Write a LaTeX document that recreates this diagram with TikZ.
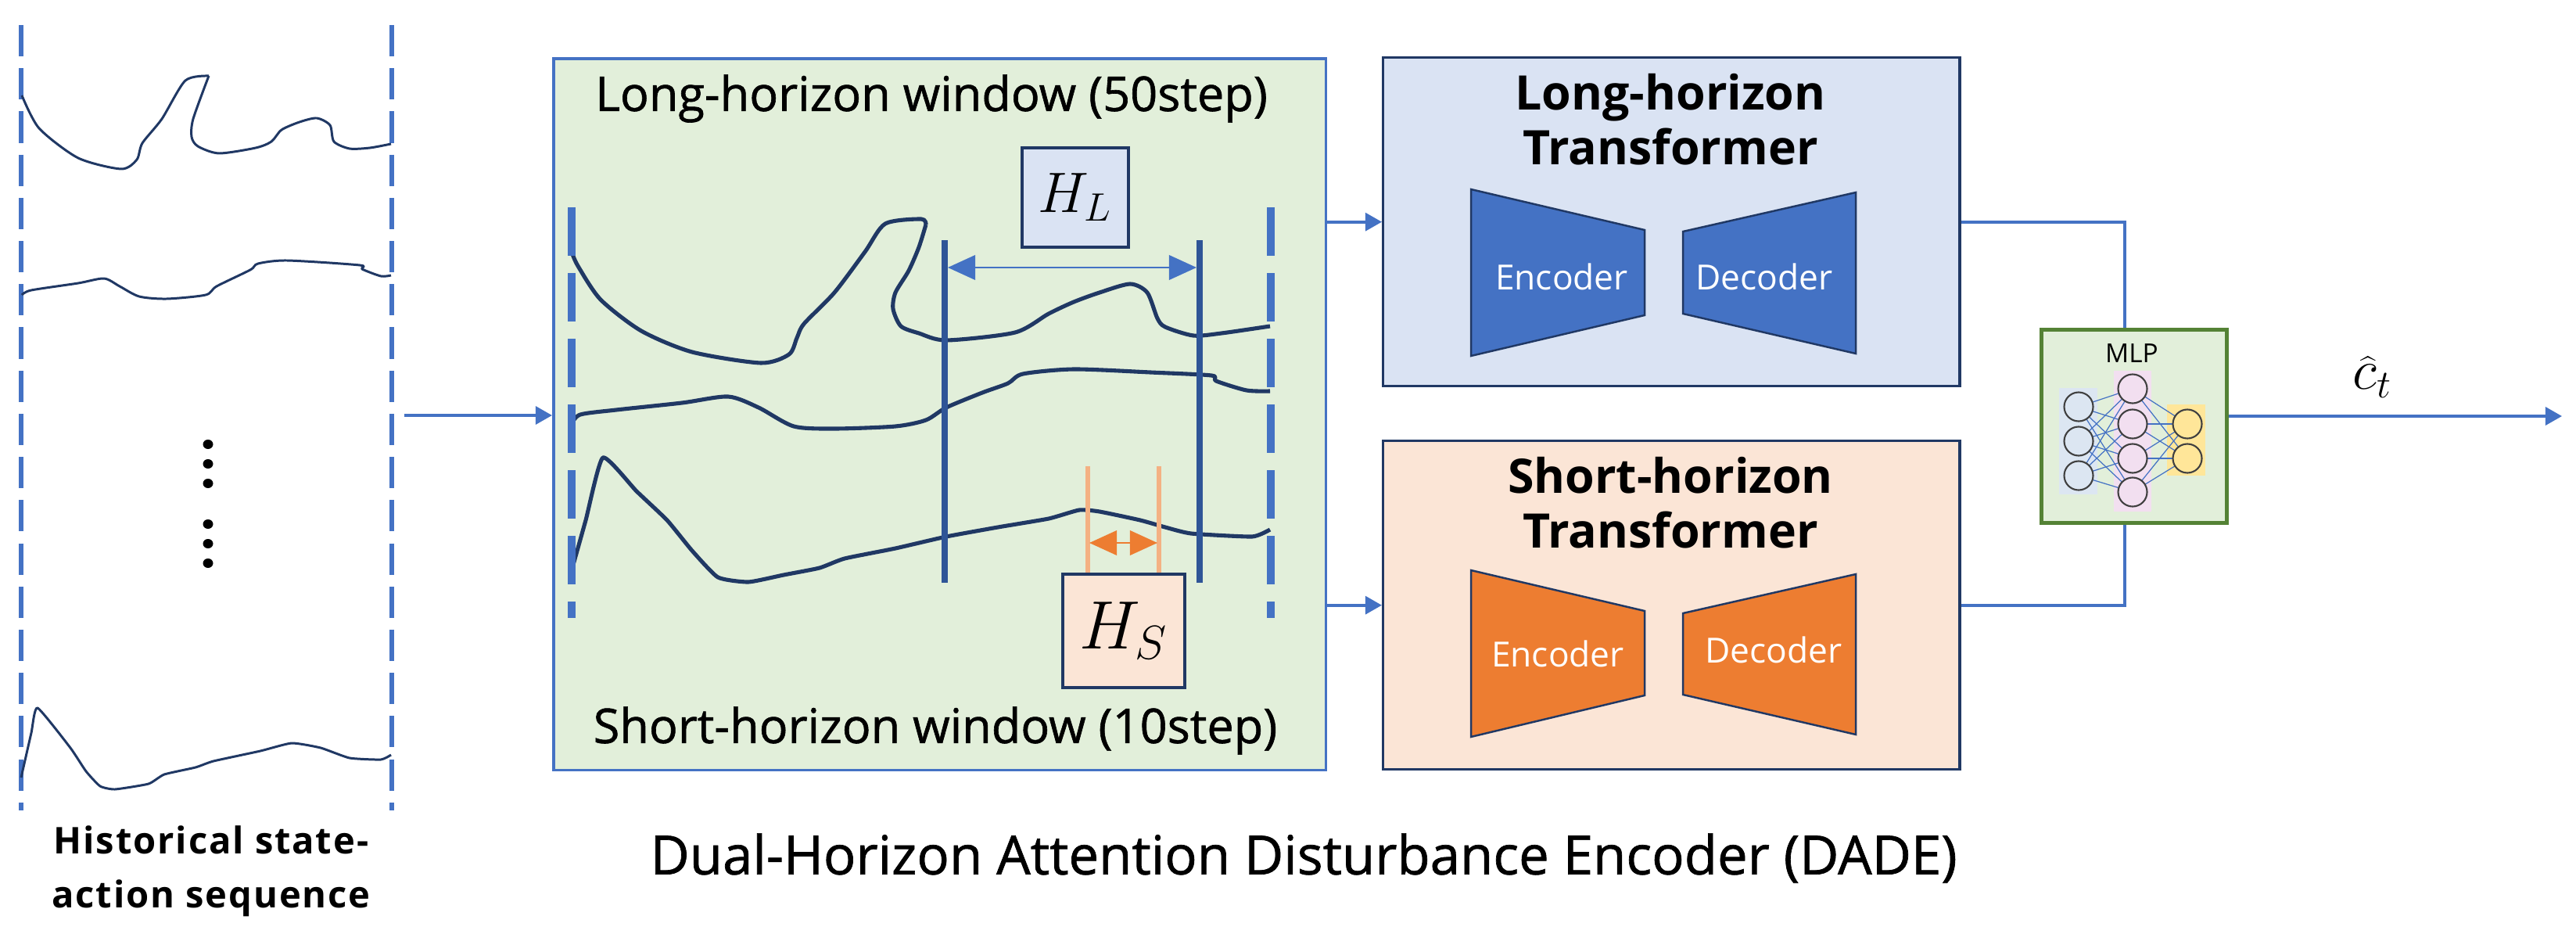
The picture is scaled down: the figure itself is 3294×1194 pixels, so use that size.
\documentclass[tikz,border=0pt]{standalone}
\usepackage{fontspec}
\setmainfont{Open Sans}
\newfontfamily\histfont[LetterSpace=4]{Open Sans}
\newfontfamily\medfont[FakeBold=1]{Open Sans}
\usetikzlibrary{arrows.meta,calc}
\definecolor{blueA}{HTML}{4472C4}
\definecolor{navy}{HTML}{203864}
\definecolor{dkblue}{HTML}{2F5597}
\definecolor{lgreen}{HTML}{E2EFDA}
\definecolor{lblue}{HTML}{DAE3F3}
\definecolor{lorange}{HTML}{FBE5D6}
\definecolor{orangeA}{HTML}{ED7D31}
\definecolor{orangeL}{HTML}{F4B183}
\definecolor{mgreen}{HTML}{548235}
\definecolor{lpink}{HTML}{F2DFF0}
\definecolor{lyellow}{HTML}{FFE699}
\definecolor{mlpbg}{HTML}{DCE6F2}
\begin{document}
\begin{tikzpicture}[x=0.01cm,y=-0.01cm,
  conn/.style={blueA,line width=1.1pt,-{Triangle[length=6pt,width=6.5pt]}},
  lcurve/.style={navy,line width=0.85pt,line join=round},
  mcurve/.style={navy,line width=1.45pt,line join=round},
  dashl/.style={blueA,line width=1.55pt,dash pattern=on 11.4pt off 4.3pt},
  dashm/.style={blueA,line width=2.6pt,dash pattern=on 17.6pt off 6.3pt},
  solidv/.style={dkblue,line width=2.5pt},
  panel/.style={draw=blueA,line width=1pt,fill=lgreen,inner sep=0pt,anchor=north west},
  tbox/.style={draw=navy,line width=0.9pt,inner sep=0pt,anchor=north west,minimum width=7.37cm,minimum height=4.2cm},
  hbox/.style={draw=navy,line width=1.1pt,inner sep=0pt},
  trap/.style={draw=navy,line width=0.7pt,line join=miter},
  ttl/.style={font=\fontsize{17.3}{20}\selectfont\bfseries,align=center},
  wlab/.style={font=\medfont\fontsize{17.4}{19}\selectfont},
  edlab/.style={font=\fontsize{12.6}{15}\selectfont,text=white},
  neuron/.style={circle,draw=black!75,line width=0.6pt,minimum size=0.37cm,inner sep=0pt},
  nnl/.style={blueA,line width=0.35pt},
  harrow/.style={line width=0.6pt,{Triangle[length=10pt,width=9pt]}-{Triangle[length=10pt,width=9pt]}}
]
\useasboundingbox (0,0) rectangle (3294,1194);

% ---------------- left panel: historical sequence ----------------
\draw[dashl] (27,32) -- (27,1036);
\draw[dashl] (501,32) -- (501,1036);
\draw[lcurve] plot[smooth,tension=0.45] coordinates {(28,122) (50,164) (100,202) (155,216) (175,204) (182,183) (207,152) (237,103) (267,97)};
\draw[lcurve] plot[smooth,tension=0.45] coordinates {(267,97) (247,152) (245,175) (253,187) (280,196) (327,189) (347,181) (360,166) (383,156) (405,151) (422,160) (427,181) (447,190) (473,189) (500,184)};
\draw[lcurve] plot[smooth,tension=0.45] coordinates {(28,377) (40,371) (100,362) (133,356) (153,366) (178,379) (213,382) (263,377) (277,366) (320,345) (330,337) (367,333) (460,339) (463,344) (487,353) (500,352)};
\draw[lcurve] plot[smooth,tension=0.3] coordinates {(27,994) (40,937) (48,905) (90,956) (110,986) (128,1005) (147,1009) (190,1002) (210,990) (250,981) (273,973) (333,960) (373,950) (410,956) (447,969) (487,971) (500,965)};
\foreach \yy in {568,593,618,670,695,720}
  \fill (266,\yy) ellipse [x radius=6.5, y radius=6];
\node[font=\histfont\fontsize{13.4}{19.5}\selectfont\bfseries,align=center] (histlab) at (270,1114) {Historical state-\\action sequence};
\coordinate (histout) at (517,531);

% ---------------- middle panel: windows ----------------
\node[panel,minimum width=9.87cm,minimum height=9.09cm] (win) at (706,73) {};
\node[wlab] (wtitle) at (1191,126) {Long-horizon window (50step)};
\node[wlab] (wbottom) at (1196,934) {Short-horizon window (10step)};

\draw[mcurve] plot[smooth,tension=0.45] coordinates {(731,322) (739,340) (768,383) (820,423) (885,450) (973,464) (1009,453) (1019,432) (1028,414) (1067,374) (1106,322) (1132,286) (1178,280) (1184,287)};
\draw[mcurve] plot[smooth,tension=0.45] coordinates {(1184,287) (1175,316) (1162,346) (1145,374) (1142,395) (1152,417) (1175,426) (1210,435) (1298,425) (1341,401) (1373,386) (1406,374) (1445,363) (1467,374) (1480,407) (1490,418) (1526,429) (1562,426) (1624,417)};
\draw[mcurve] plot[smooth,tension=0.45] coordinates {(731,542) (742,530) (788,524) (872,515) (931,507) (970,521) (1015,545) (1067,548) (1145,545) (1184,537) (1210,521) (1256,502) (1289,490) (1308,478) (1373,472) (1471,476) (1549,480) (1555,487) (1594,499) (1624,500)};
\draw[mcurve] plot[smooth,tension=0.3] coordinates {(731,729) (749,665) (771,585) (814,628) (853,665) (885,704) (918,738) (957,744) (1002,735) (1048,726) (1080,714) (1145,701) (1210,686) (1276,674) (1341,663) (1380,652) (1406,654) (1458,665) (1490,674) (1523,682) (1601,686) (1624,677)};

\draw[dashm] (731,265) -- (731,790);
\draw[dashm] (1625,265) -- (1625,790);
\coordinate (la) at (1208,307);
\coordinate (lb) at (1534,307);
\draw[solidv] (la) -- (1208,745);
\draw[solidv] (lb) -- (1534,745);
\draw[blueA,harrow] (1212,342) -- (1530,342);
\node[hbox,fill=lblue,minimum width=1.36cm,minimum height=1.27cm,font=\fontsize{21}{22}\selectfont] (hl) at (1375,252.5) {$H_L$};

\coordinate (sa) at (1391,596);
\coordinate (sb) at (1482,596);
\draw[orangeL,line width=1.6pt] (sa) -- (1391,734);
\draw[orangeL,line width=1.6pt] (sb) -- (1482,734);
\draw[orangeA,harrow] (1393,694) -- (1480,694);
\node[hbox,fill=lorange,minimum width=1.56cm,minimum height=1.45cm,font=\fontsize{24}{26}\selectfont] (hs) at (1437,806.5) {$H_S$};

% ---------------- transformers ----------------
\node[tbox,fill=lblue] (lt) at (1767,72) {};
\node[ttl] (lttl) at (2136,153) {Long-horizon\\Transformer};
\draw[trap,fill=blueA] (1881,242) -- (2103,294) -- (2103,403) -- (1881,455) -- cycle;
\draw[trap,fill=blueA] (2152,296) -- (2373,246) -- (2373,452) -- (2152,401) -- cycle;
\node[edlab] (lenc) at (1997,354) {Encoder};
\node[edlab] (ldec) at (2256,354) {Decoder};

\node[tbox,fill=lorange] (st) at (1767,562) {};
\node[ttl] (sttl) at (2136,643) {Short-horizon\\Transformer};
\draw[trap,fill=orangeA] (1881,729) -- (2103,781) -- (2103,889) -- (1881,942) -- cycle;
\draw[trap,fill=orangeA] (2152,784) -- (2373,734) -- (2373,939) -- (2152,888) -- cycle;
\node[edlab] (senc) at (1992,836) {Encoder};
\node[edlab] (sdec) at (2268,831) {Decoder};

% ---------------- MLP ----------------
\node[draw=mgreen,line width=1.3pt,fill=lgreen,inner sep=0pt,anchor=north west,minimum width=2.37cm,minimum height=2.47cm] (mlp) at (2608,419) {};
\node[font=\fontsize{9.5}{11}\selectfont] (mlplab) at (2726,452) {MLP};
\fill[mlpbg] (2633,496) rectangle (2682,632);
\fill[lpink] (2703,474) rectangle (2751,654);
\fill[lyellow] (2771,517) rectangle (2820,608);
\foreach \i/\yy in {1/520,2/564,3/608} \coordinate (a\i) at (2658,\yy);
\foreach \i/\yy in {1/497,2/542,3/586,4/629} \coordinate (b\i) at (2727,\yy);
\foreach \i/\yy in {1/542,2/586} \coordinate (c\i) at (2797,\yy);
\foreach \i in {1,2,3} \foreach \j in {1,2,3,4} \draw[nnl] (a\i) -- (b\j);
\foreach \i in {1,2,3,4} \foreach \j in {1,2} \draw[nnl] (b\i) -- (c\j);
\foreach \i in {1,2,3} \node[neuron,fill=mlpbg] (na\i) at (a\i) {};
\foreach \i in {1,2,3,4} \node[neuron,fill=lpink] (nb\i) at (b\i) {};
\foreach \i in {1,2} \node[neuron,fill=lyellow] (nc\i) at (c\i) {};

% ---------------- connectors ----------------
\draw[conn] (histout) -- (histout -| win.west);
\draw[conn] (win.east |- lt.west) -- (lt.west);
\draw[conn] (win.east |- st.west) -- (st.west);
\draw[blueA,line width=1.1pt] (lt.east) -| ([xshift=-0.12cm]mlp.north);
\draw[blueA,line width=1.1pt] (st.east) -| ([xshift=-0.12cm]mlp.south);
\coordinate (out) at (3276,532);
\draw[conn] (mlp.east |- out) -- (out);
\node[font=\fontsize{20}{22}\selectfont] (chat) at (3034,482) {$\widehat{c}_t$};

% ---------------- caption ----------------
\node[font=\medfont\fontsize{19.6}{22}\selectfont] (caption) at (1667,1097) {Dual-Horizon Attention Disturbance Encoder (DADE)};
\end{tikzpicture}
\end{document}
